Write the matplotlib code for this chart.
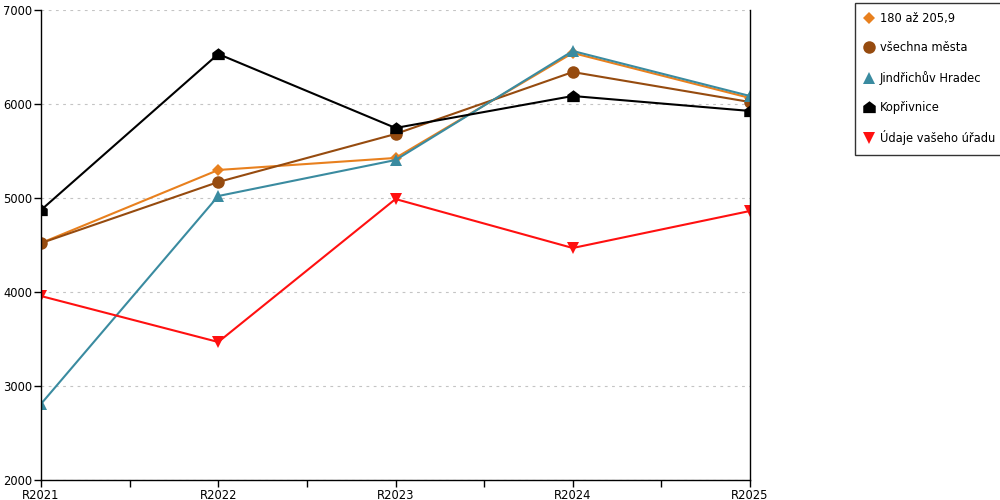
import matplotlib as mlp
mlp.use('Agg')
import matplotlib.pyplot as plt
from matplotlib.path import Path

years = ['R2021', 'R2022', 'R2023', 'R2024', 'R2025']
series_names = ['180 až 205,9', 'všechna města', 'Jindřichův Hradec',
                'Kopřivnice', 'Údaje vašeho úřadu']
band_vals = [4521, 5298, 5426, 6543, 6064]
all_cities = [4520, 5170, 5681, 6340, 6021]
jh_vals = [2809, 5021, 5404, 6564, 6085]
kop_vals = [4872, 6532, 5745, 6085, 5926]
office_vals = [3957, 3468, 4989, 4468, 4862]
y_ticks = [2000, 3000, 4000, 5000, 6000, 7000]

house = Path([(-1, -0.9), (1, -0.9), (1, 0.25), (0, 1), (-1, 0.25), (-1, -0.9)],
             [Path.MOVETO, Path.LINETO, Path.LINETO, Path.LINETO, Path.LINETO,
              Path.CLOSEPOLY])

styles = [
    ('#E8801E', 'D', 6),
    ('#964B0F', 'o', 9),
    ('#3A8BA0', '^', 9),
    ('#000000', house, 9),
    ('#FF1010', 'v', 9),
]
data = [band_vals, all_cities, jh_vals, kop_vals, office_vals]

plt.rcParams['font.family'] = ['DejaVu Sans']
fig = plt.figure(figsize=(10, 5), dpi=100)
ax = fig.add_axes([0.041, 0.04, 0.709, 0.94])

x = list(range(len(years)))
for name, vals, (col, mk, ms) in zip(series_names, data, styles):
    ax.plot(x, vals, color=col, lw=1.5, marker=mk, markersize=ms,
            markeredgewidth=0, label=name)

ax.set_xlim(0, len(years) - 1)
ax.set_ylim(2000, 7000)
ax.set_yticks(y_ticks)
ax.set_xticks(x)
ax.set_xticklabels(years)
ax.set_xticks([i + 0.5 for i in range(len(years) - 1)], minor=True)
ax.tick_params(axis='both', which='both', labelsize=8.3, direction='out',
               length=5, width=1, color='black', pad=1.5)
ax.tick_params(axis='x', which='minor', length=5)
ax.grid(axis='y', color='#C4C4C4', linestyle=(0, (2.5, 4)), lw=0.8)
ax.set_axisbelow(True)
ax.spines['top'].set_visible(False)
for s in ['left', 'right', 'bottom']:
    ax.spines[s].set_color('black')
    ax.spines[s].set_linewidth(1)

leg = fig.legend(loc='upper left', bbox_to_anchor=(0.855, 0.995),
                 frameon=True, fancybox=False, fontsize=8.3,
                 handlelength=0.8, handletextpad=0.5, labelspacing=1.4,
                 borderpad=0.85, borderaxespad=0, markerscale=1.0)
leg.get_frame().set_edgecolor('black')
leg.get_frame().set_linewidth(1)
for h in leg.legend_handles:
    h.set_linestyle('None')

fig.savefig('out.png')
